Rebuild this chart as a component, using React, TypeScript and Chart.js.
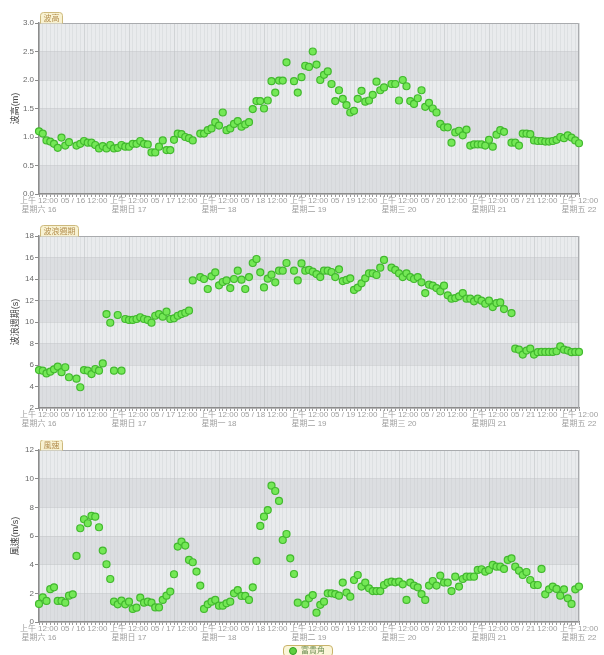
import React, { useEffect, useRef } from 'react';
import { Chart, registerables } from 'chart.js';
Chart.register(...registerables);

const FONT = '"Liberation Sans", "Noto Sans CJK TC", sans-serif';

// x positions: hours since 05/16 00:00
const hours: number[] = Array.from({ length: 145 }, (_, i) => i);

const xTickLabels: (string | string[])[] = [
  ['上午 12:00', '星期六 16'], '05 / 16 12:00',
  ['上午 12:00', '星期日 17'], '05 / 17 12:00',
  ['上午 12:00', '星期一 18'], '05 / 18 12:00',
  ['上午 12:00', '星期二 19'], '05 / 19 12:00',
  ['上午 12:00', '星期三 20'], '05 / 20 12:00',
  ['上午 12:00', '星期四 21'], '05 / 21 12:00',
  ['上午 12:00', '星期五 22'],
];

const waveHeight: (number | null)[] = [
  1.10, 1.06, 0.94, 0.92, 0.88, 0.81, 0.99, 0.85, 0.91, null,
  0.85, 0.88, 0.93, 0.90, 0.90, 0.86, 0.80, 0.84, 0.80, 0.86,
  0.80, 0.81, 0.86, 0.83, 0.83, 0.88, 0.88, 0.93, 0.88, 0.87,
  0.73, 0.73, 0.83, 0.94, 0.77, 0.77, 0.95, 1.06, 1.05, 1.00,
  0.98, 0.94, null, 1.06, 1.06, 1.12, 1.15, 1.26, 1.20, 1.43,
  1.12, 1.15, 1.23, 1.28, 1.18, 1.22, 1.26, 1.49, 1.63, 1.63,
  1.50, 1.64, 1.98, 1.78, 1.99, 1.99, 2.31, null, 1.98, 1.78,
  2.05, 2.25, 2.23, 2.50, 2.27, 2.00, 2.09, 2.15, 1.93, 1.63,
  1.82, 1.67, 1.56, 1.43, 1.46, 1.67, 1.81, 1.62, 1.64, 1.74,
  1.97, 1.82, 1.87, null, 1.93, 1.93, 1.64, 2.00, 1.89, 1.63,
  1.58, 1.68, 1.82, 1.53, 1.60, 1.50, 1.43, 1.23, 1.17, 1.17,
  0.90, 1.08, 1.11, 1.03, 1.13, 0.85, 0.87, 0.87, 0.87, 0.85,
  0.95, 0.83, 1.04, 1.12, 1.09, null, 0.90, 0.90, 0.85, 1.06,
  1.06, 1.05, 0.94, 0.93, 0.93, 0.92, 0.92, 0.93, 0.95, 1.00,
  0.98, 1.03, 0.99, 0.94, 0.89,
];

const wavePeriod: (number | null)[] = [
  5.53, 5.47, 5.22, 5.38, 5.60, 5.85, 5.33, 5.79, 4.86, null,
  4.73, 3.93, 5.53, 5.47, 5.16, 5.63, 5.47, 6.15, 10.74, 9.93,
  5.47, 10.65, 5.47, 10.28, 10.19, 10.19, 10.28, 10.44, 10.28, 10.19,
  9.93, 10.58, 10.74, 10.50, 10.96, 10.28, 10.34, 10.58, 10.74, 10.86,
  11.05, 13.87, null, 14.18, 14.00, 13.07, 14.25, 14.62, 13.41, 13.72,
  13.87, 13.16, 14.00, 14.77, 13.94, 13.07, 14.18, 15.49, 15.86, 14.62,
  13.22, 14.03, 14.40, 13.69, 14.77, 14.77, 15.49, null, 14.77, 13.87,
  15.45, 14.77, 14.84, 14.68, 14.46, 14.18, 14.77, 14.77, 14.65, 14.18,
  14.90, 13.81, 13.91, 14.06, 12.98, 13.20, 13.60, 14.06, 14.53, 14.53,
  14.37, 15.05, 15.77, null, 15.05, 14.84, 14.53, 14.18, 14.53, 14.18,
  14.00, 14.18, 13.69, 12.69, 13.47, 13.38, 13.16, 12.85, 13.38, 12.48,
  12.17, 12.23, 12.39, 12.69, 12.17, 12.17, 11.92, 12.17, 11.98, 11.70,
  11.98, 11.39, 11.76, 11.82, 11.20, null, 10.83, 7.52, 7.43, 6.97,
  7.34, 7.52, 6.97, 7.19, 7.22, 7.22, 7.22, 7.22, 7.28, 7.74,
  7.43, 7.34, 7.19, 7.22, 7.22,
];

const windSpeed: (number | null)[] = [
  1.26, 1.72, 1.47, 2.29, 2.42, 1.47, 1.47, 1.35, 1.84, 1.93,
  4.61, 6.54, 7.17, 6.89, 7.40, 7.35, 6.61, 4.98, 4.03, 3.00,
  1.42, 1.23, 1.49, 1.23, 1.42, 0.91, 1.00, 1.70, 1.35, 1.42,
  1.35, 1.02, 1.02, 1.54, 1.84, 2.12, 3.33, 5.26, 5.61, 5.33,
  4.33, 4.17, 3.52, 2.54, 0.91, 1.23, 1.42, 1.54, 1.14, 1.14,
  1.30, 1.42, 2.00, 2.23, 1.82, 1.82, 1.54, 2.42, 4.26, 6.70,
  7.35, 7.81, 9.51, 9.14, 8.45, 5.72, 6.14, 4.44, 3.35, 1.35,
  null, 1.23, 1.65, 1.88, 0.65, 1.20, 1.42, 2.00, 2.00, 1.95,
  1.84, 2.75, 2.05, 1.77, 2.93, 3.28, 2.47, 2.75, 2.35, 2.16,
  2.16, 2.16, 2.58, 2.75, 2.82, 2.77, 2.82, 2.63, 1.54, 2.75,
  2.54, 2.42, 1.95, 1.54, 2.54, 2.86, 2.54, 3.24, 2.75, 2.75,
  2.16, 3.16, 2.47, 3.00, 3.16, 3.16, 3.16, 3.63, 3.68, 3.51,
  3.63, 3.98, 3.86, 3.86, 3.70, 4.33, 4.44, 3.86, 3.58, 3.28,
  3.49, 2.93, 2.58, 2.58, 3.70, 1.93, 2.28, 2.47, 2.31, 1.84,
  2.28, 1.65, 1.26, 2.28, 2.47,
];

const bandPlugin = {
  id: 'bands',
  beforeDraw(chart: any, _a: any, opts: any) {
    const { ctx, chartArea, scales } = chart;
    if (!chartArea) return;
    const { left, right, top, bottom } = chartArea;
    const y = scales.y;
    ctx.save();
    ctx.fillStyle = '#e9ebed';
    ctx.fillRect(left, top, right - left, bottom - top);
    ctx.fillStyle = '#dcdee1';
    let i = 0;
    for (let v = y.min; v < y.max - 1e-9; v += opts.step, i++) {
      if (i % 2 === 0) {
        const y1 = y.getPixelForValue(v);
        const y2 = y.getPixelForValue(v + opts.step);
        ctx.fillRect(left, y2, right - left, y1 - y2);
      }
    }
    ctx.restore();
  },
  beforeDatasetsDraw(chart: any) {
    const { ctx, chartArea } = chart;
    const { left, right, top, bottom } = chartArea;
    ctx.save();
    ctx.strokeStyle = '#a9abae';
    ctx.lineWidth = 1;
    ctx.beginPath();
    ctx.moveTo(left, top + 0.5);
    ctx.lineTo(right - 0.5, top + 0.5);
    ctx.lineTo(right - 0.5, bottom);
    ctx.stroke();
    ctx.restore();
  },
  afterDraw(chart: any, _a: any, opts: any) {
    const { ctx, chartArea } = chart;
    const text = opts.tab;
    if (!text) return;
    ctx.save();
    ctx.font = `8px ${FONT}`;
    const w = ctx.measureText(text).width + 6;
    const h = 11;
    const x = chartArea.left + 1.5;
    const y = chartArea.top - h + 0.5;
    const r = 3;
    ctx.beginPath();
    ctx.moveTo(x, y + h);
    ctx.lineTo(x, y + r);
    ctx.quadraticCurveTo(x, y, x + r, y);
    ctx.lineTo(x + w - r, y);
    ctx.quadraticCurveTo(x + w, y, x + w, y + r);
    ctx.lineTo(x + w, y + h);
    ctx.fillStyle = '#f8f2d2';
    ctx.fill();
    ctx.strokeStyle = '#cdb97c';
    ctx.lineWidth = 1;
    ctx.stroke();
    ctx.fillStyle = '#b38e4e';
    ctx.textBaseline = 'middle';
    ctx.fillText(text, x + 3, y + h / 2 + 0.5);
    ctx.restore();
  },
};

type PanelProps = {
  values: (number | null)[];
  yMin: number;
  yMax: number;
  step: number;
  yTitle: string;
  tab: string;
  top: number;
  height: number;
  padTop: number;
  xHeight: number;
};

function Panel(p: PanelProps) {
  const ref = useRef<HTMLCanvasElement>(null);
  useEffect(() => {
    if (!ref.current) return;
    const pts = hours
      .map((h) => ({ x: h, y: p.values[h] }))
      .filter((d) => d.y !== null && d.y !== undefined);
    const chart = new Chart(ref.current, {
      type: 'scatter',
      data: {
        datasets: [
          {
            data: pts as any,
            backgroundColor: '#74e856',
            borderColor: '#42b92e',
            borderWidth: 1.2,
            pointRadius: 3.5,
            clip: false as any,
          },
        ],
      },
      options: {
        responsive: false,
        animation: false,
        events: [],
        layout: { padding: { top: p.padTop, right: 25, left: 0, bottom: 0 } },
        plugins: {
          legend: { display: false },
          tooltip: { enabled: false },
          bands: { step: p.step, tab: p.tab },
        } as any,
        scales: {
          x: {
            type: 'linear',
            min: 0,
            max: 144,
            afterBuildTicks: (s: any) => {
              s.ticks = hours.map((h) => ({ value: h }));
            },
            afterFit: (s: any) => {
              s.height = p.xHeight;
            },
            ticks: {
              autoSkip: false,
              maxRotation: 0,
              minRotation: 0,
              padding: 0,
              color: '#a0a0a0',
              font: { family: FONT, size: 8, lineHeight: 1.05 },
              callback: (v: any) => (Number(v) % 12 === 0 ? xTickLabels[Number(v) / 12] : ''),
            },
            grid: {
              color: (c: any) =>
                c.tick && c.tick.value % 12 === 0 ? 'rgba(180,183,187,0.45)' : 'rgba(200,203,207,0.35)',
              tickColor: '#9a9a9a',
              tickLength: 3,
              lineWidth: 1,
            },
            border: { color: '#8c8c8c', width: 1.5 },
          },
          y: {
            min: p.yMin,
            max: p.yMax,
            afterFit: (s: any) => {
              s.width = 39;
            },
            ticks: {
              stepSize: p.step,
              padding: 1,
              color: '#6a6a6a',
              font: { family: FONT, size: 8 },
              callback: (v: any) => (p.step < 1 ? Number(v).toFixed(1) : String(v)),
            },
            grid: {
              color: 'rgba(190,192,196,0.45)',
              tickColor: '#8c8c8c',
              tickLength: 4,
            },
            border: { color: '#8c8c8c', width: 1.5 },
            title: {
              display: true,
              text: p.yTitle,
              color: '#444',
              font: { family: FONT, size: 9 },
              padding: { top: 10, bottom: 0 },
            },
          },
        },
      },
      plugins: [bandPlugin as any],
    });
    return () => chart.destroy();
  }, []);
  return (
    <canvas
      ref={ref}
      width={604}
      height={p.height}
      style={{ position: 'absolute', left: 0, top: p.top, width: 604, height: p.height }}
    />
  );
}

export default function App() {
  return (
    <div style={{ position: 'absolute', left: 0, top: 0, width: 604, height: 655, background: '#fff', overflow: 'hidden' }}>
      <Panel values={waveHeight} yMin={0} yMax={3} step={0.5} yTitle="波高(m)" tab="波高"
        top={0} height={220} padTop={23} xHeight={26} />
      <Panel values={wavePeriod} yMin={2} yMax={18} step={2} yTitle="波浪週期(s)" tab="波浪週期"
        top={220} height={220} padTop={16} xHeight={32} />
      <Panel values={windSpeed} yMin={0} yMax={12} step={2} yTitle="風速(m/s)" tab="風速"
        top={440} height={215} padTop={10} xHeight={33} />
      <div
        style={{
          position: 'absolute', left: 283, top: 645, width: 50, height: 12,
          border: '1px solid #c9b36a', borderRadius: 4, background: '#fbf6d9',
          display: 'flex', alignItems: 'center', gap: 4, paddingLeft: 5, boxSizing: 'border-box',
          fontSize: 8, color: '#6f8f55', fontFamily: FONT, lineHeight: 1,
        }}
      >
        <span style={{ width: 6, height: 6, borderRadius: '50%', background: '#5fd040', border: '1px solid #2fa020', display: 'inline-block' }} />
        <span>富貴角</span>
      </div>
    </div>
  );
}
